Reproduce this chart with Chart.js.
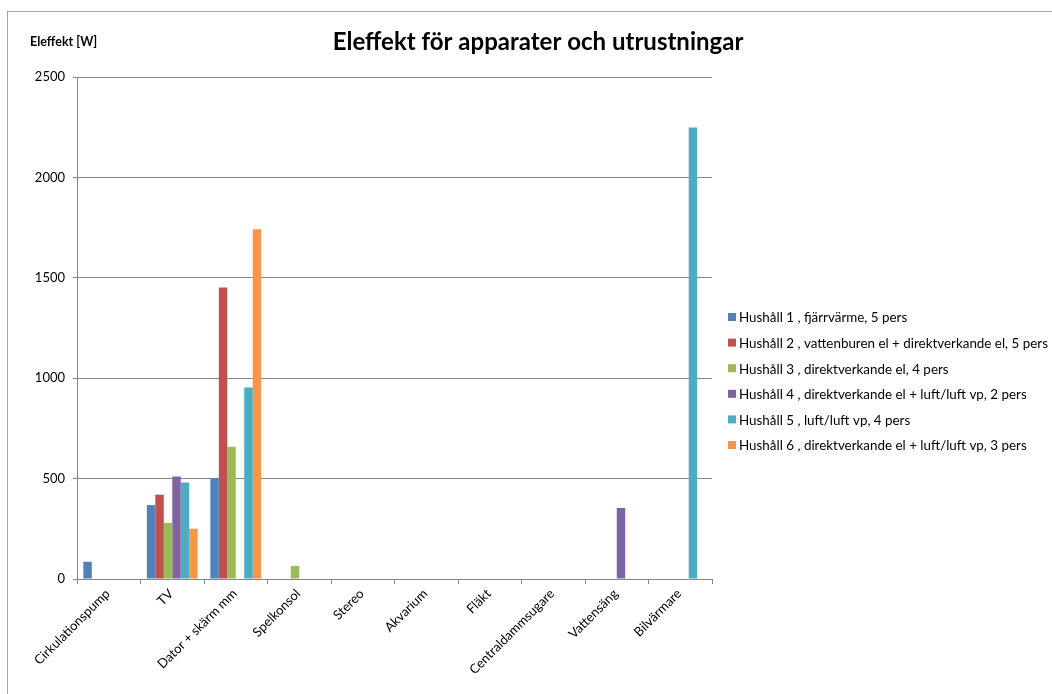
<!DOCTYPE html>
<html lang="sv">
<head>
<meta charset="UTF-8" />
<title>Eleffekt för apparater och utrustningar</title>
<script src="https://cdn.jsdelivr.net/npm/chart.js"></script>
<style>
  html, body { margin: 0; padding: 0; background: #fff; }
  #frame {
    position: absolute; left: 7px; top: 11px; width: 1044px; height: 683px;
    border-left: 1px solid #a6a6a6; border-top: 1px solid #a6a6a6; border-right: 1px solid #a6a6a6;
  }
  #wrap { position: absolute; left: 8px; top: 12px; width: 1043px; height: 682px; }
</style>
</head>
<body>
<div id="frame"></div>
<div id="wrap"><canvas id="chart"></canvas></div>
<script>
  const categories = ['Cirkulationspump', 'TV', 'Dator + skärm mm', 'Spelkonsol', 'Stereo',
    'Akvarium', 'Fläkt', 'Centraldammsugare', 'Vattensäng', 'Bilvärmare'];

  const seriesNames = [
    'Hushåll 1 , fjärrvärme, 5 pers',
    'Hushåll 2 , vattenburen el + direktverkande el, 5 pers',
    'Hushåll 3 , direktverkande el, 4 pers',
    'Hushåll 4 , direktverkande el + luft/luft vp, 2 pers',
    'Hushåll 5 , luft/luft vp, 4 pers',
    'Hushåll 6 , direktverkande el + luft/luft vp, 3 pers'
  ];

  const hushall1 = [86, 368, 502, 0, 0, 0, 0, 0, 0, 0];
  const hushall2 = [0, 420, 1452, 0, 0, 0, 0, 0, 0, 0];
  const hushall3 = [0, 279, 659, 65, 0, 0, 0, 0, 0, 0];
  const hushall4 = [0, 511, 0, 0, 0, 0, 0, 0, 354, 0];
  const hushall5 = [0, 480, 954, 0, 0, 0, 0, 0, 0, 2248];
  const hushall6 = [0, 250, 1742, 0, 0, 0, 0, 0, 0, 0];

  const yTicks = [0, 500, 1000, 1500, 2000, 2500];

  const colors = ['#4f81bd', '#c0504d', '#9bbb59', '#8064a2', '#4bacc6', '#f79646'];
  const allSeries = [hushall1, hushall2, hushall3, hushall4, hushall5, hushall6];

  const title = 'Eleffekt för apparater och utrustningar';
  const FONT = 'Lato, "Open Sans", sans-serif';

  // title, y-axis caption and legend are drawn by hand: the built-in
  // title centres on the plot only and the right legend gets squeezed
  const extras = {
    id: 'extras',
    afterDraw(chart) {
      const ctx = chart.ctx;
      const area = chart.chartArea;
      ctx.save();
      ctx.fillStyle = '#000';
      ctx.textBaseline = 'middle';

      ctx.font = 'bold 24px ' + FONT;
      ctx.textAlign = 'center';
      ctx.fillText(title, 530, 30);

      ctx.textAlign = 'left';
      ctx.font = 'bold 12.5px ' + FONT;
      ctx.fillText('Eleffekt [W]', 22, 30);

      ctx.font = '13.4px ' + FONT;
      const x0 = area.right + 16;
      let y = area.top + 240;
      chart.data.datasets.forEach(ds => {
        ctx.fillStyle = ds.backgroundColor;
        ctx.fillRect(x0, y - 4, 8, 8);
        ctx.fillStyle = '#000';
        ctx.fillText(ds.label, x0 + 11, y + 1);
        y += 25.6;
      });
      ctx.restore();
    }
  };

  new Chart(document.getElementById('chart'), {
    type: 'bar',
    data: {
      labels: categories,
      datasets: allSeries.map((d, i) => ({
        label: seriesNames[i],
        data: d,
        backgroundColor: colors[i],
        borderWidth: 0,
        barPercentage: 1,
        categoryPercentage: 0.8
      }))
    },
    options: {
      responsive: true,
      maintainAspectRatio: false,
      animation: false,
      layout: { padding: { left: 0, right: 339, top: 65, bottom: 0 } },
      plugins: {
        legend: { display: false },
        tooltip: { enabled: false }
      },
      scales: {
        x: {
          afterFit: axis => { axis.height = 115; },
          grid: { display: true, drawOnChartArea: false, offset: true, color: '#868686', tickLength: 5 },
          border: { color: '#868686', width: 1 },
          ticks: {
            font: { family: FONT, size: 13 }, color: '#000',
            maxRotation: 45, minRotation: 45, padding: 2, labelOffset: -1
          }
        },
        y: {
          min: 0,
          max: 2500,
          afterFit: axis => { axis.width = 69; },
          afterBuildTicks: axis => { axis.ticks = yTicks.map(v => ({ value: v })); },
          grid: { color: '#868686', tickLength: 4 },
          border: { color: '#868686', width: 1 },
          ticks: { font: { family: FONT, size: 13 }, color: '#000', padding: 8, callback: v => String(v) }
        }
      }
    },
    plugins: [extras]
  });
</script>
</body>
</html>
